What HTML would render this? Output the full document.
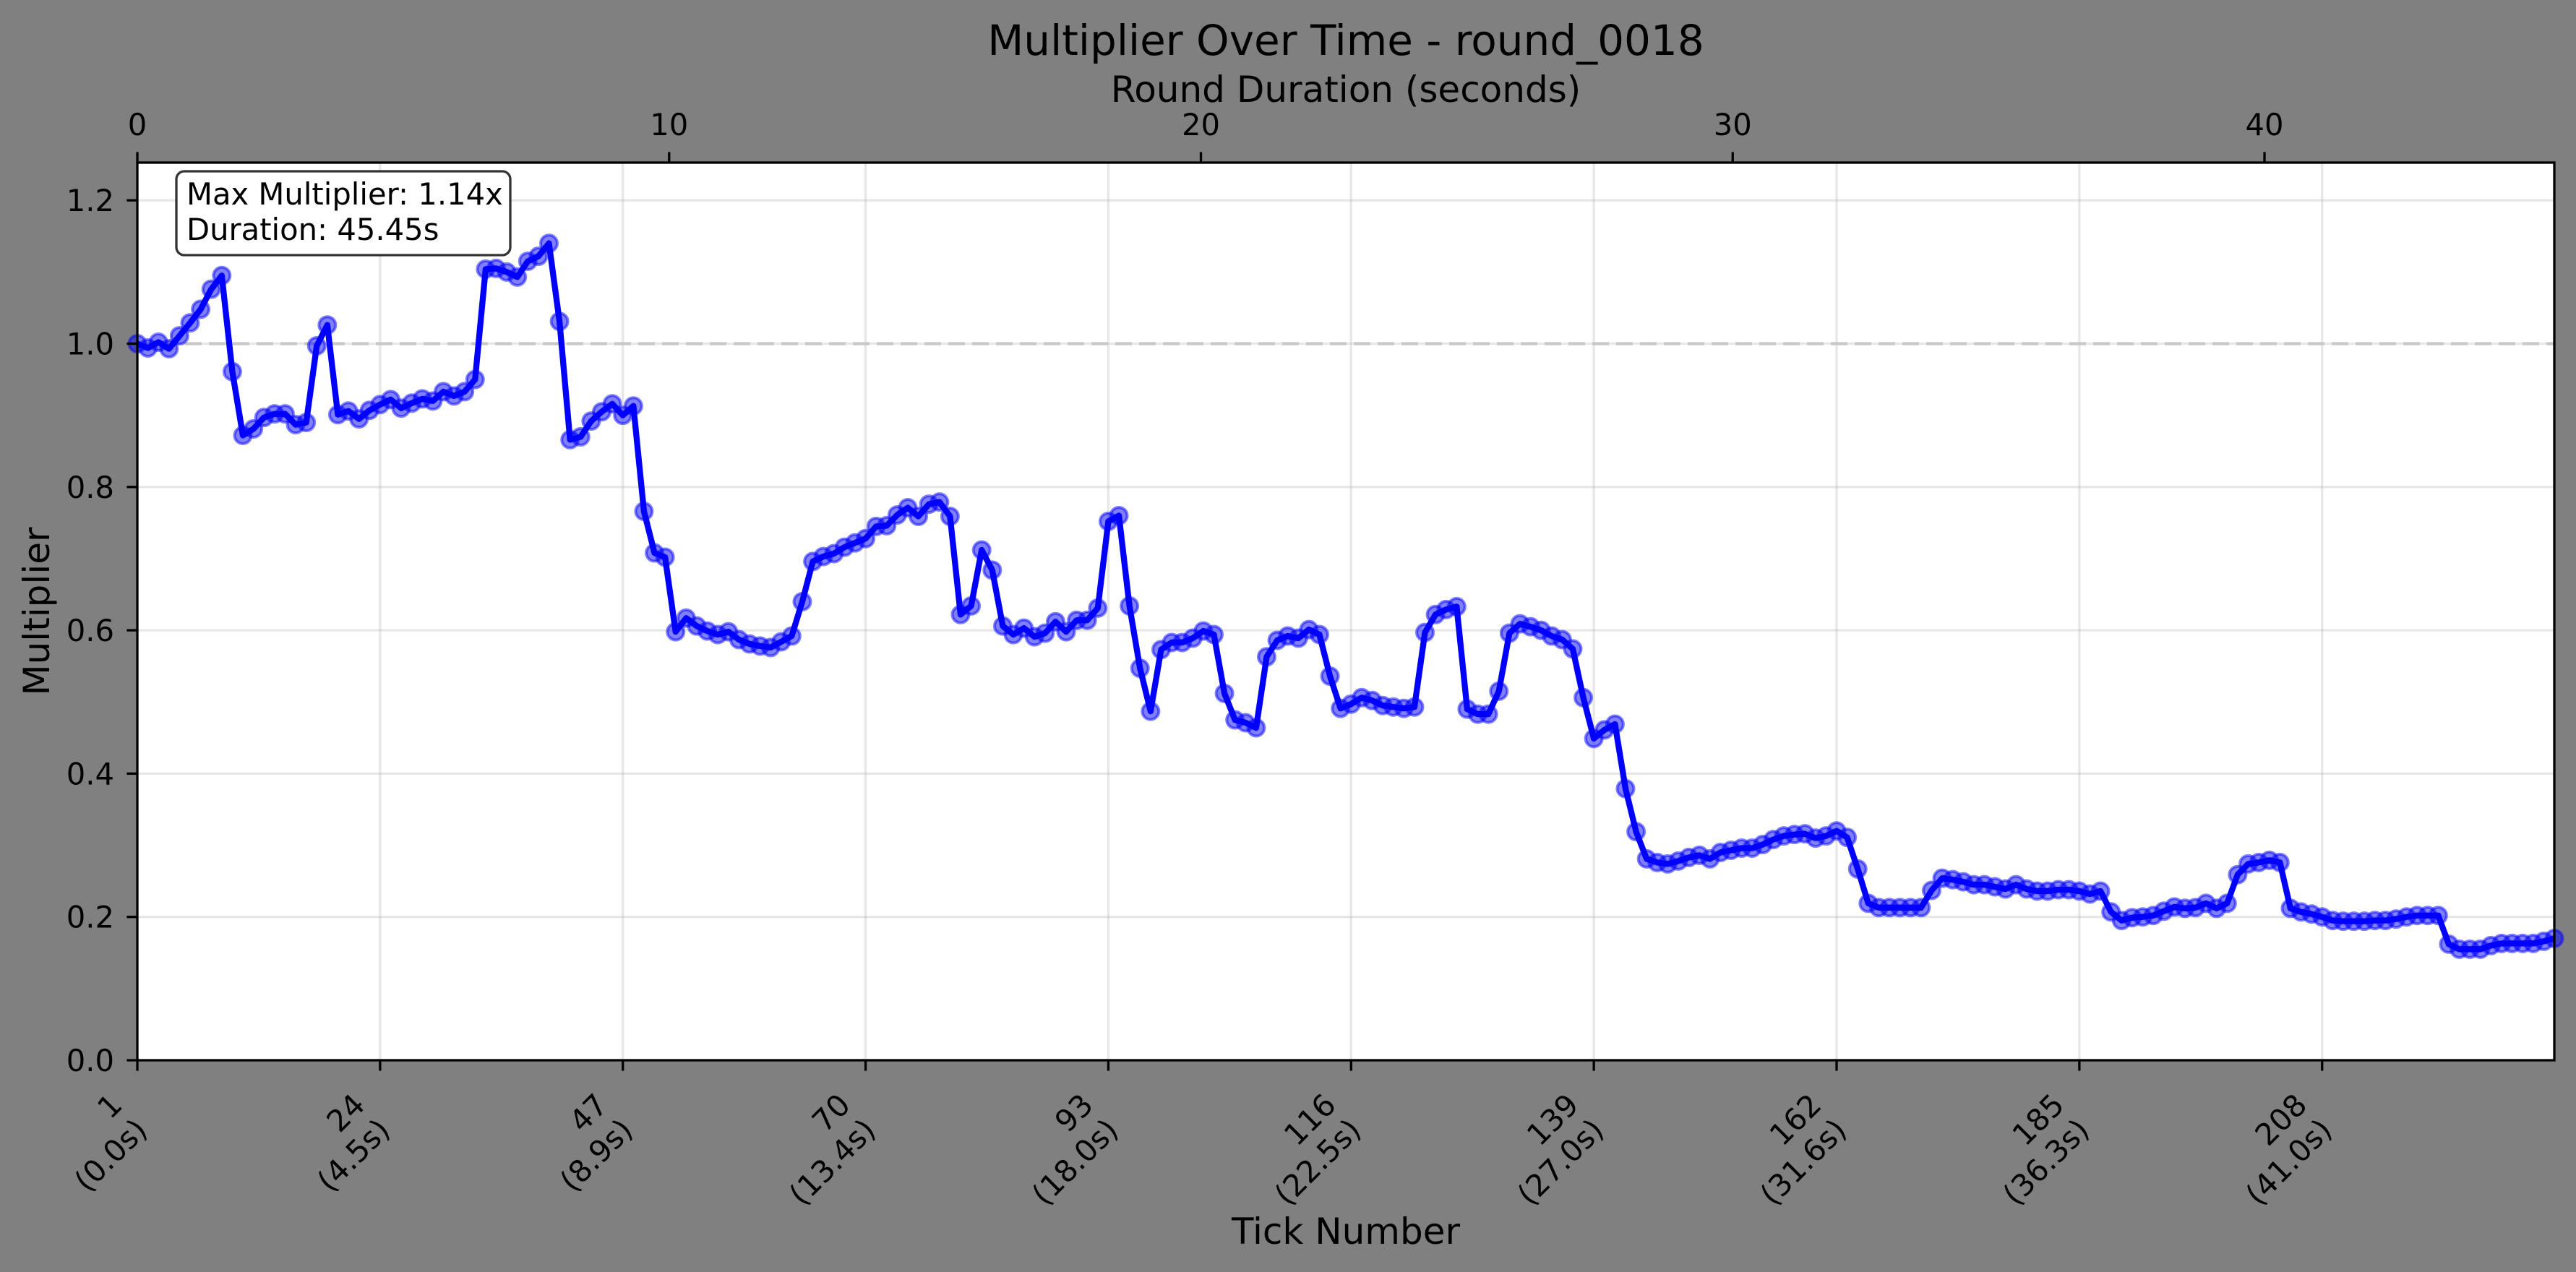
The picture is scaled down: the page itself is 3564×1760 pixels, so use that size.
<!DOCTYPE html>
<html><head><meta charset="utf-8"><style>
html,body{margin:0;padding:0;background:#808080;}
svg{display:block;font-family:"DejaVu Sans","Liberation Sans",sans-serif;}
</style></head><body>
<svg id="chart" width="3564" height="1760" viewBox="0 0 3564 1760" xmlns="http://www.w3.org/2000/svg">
<rect x="0" y="0" width="3564" height="1760" fill="#808080"/>
<rect x="190" y="225" width="3344" height="1242" fill="#ffffff"/>
<g id="grid"></g>
<line x1="190" x2="3534" y1="475.5" y2="475.5" stroke="#c8c8c8" stroke-width="4.2" stroke-dasharray="23 10"/>
<g id="series"></g>
<rect x="190" y="225" width="3344" height="1242" fill="none" stroke="#000" stroke-width="3.3"/>
<g id="axes"></g>
<g>
<rect x="244" y="237" width="462" height="116" rx="11" fill="#fff" stroke="#333" stroke-width="3.3"/>
<text x="258" y="283" font-size="41.7" fill="#000">Max Multiplier: 1.14x</text>
<text x="258" y="332" font-size="41.7" fill="#000">Duration: 45.45s</text>
</g>
<text x="1862" y="76" font-size="58" text-anchor="middle" fill="#000">Multiplier Over Time - round_0018</text>
<text x="1862" y="141" font-size="50" text-anchor="middle" fill="#000">Round Duration (seconds)</text>
<text x="1862" y="1721" font-size="50" text-anchor="middle" fill="#000">Tick Number</text>
<text x="0" y="0" font-size="50" text-anchor="middle" fill="#000" transform="translate(68,846) rotate(-90)">Multiplier</text>
</svg>
<script>
const multipliers = [
1.0,0.994,1.002,0.993,1.011,1.029,1.048,1.076,1.095,0.961,
0.872,0.881,0.897,0.902,0.902,0.887,0.890,0.997,1.026,0.901,
0.906,0.895,0.907,0.915,0.922,0.910,0.917,0.923,0.920,0.933,
0.927,0.933,0.950,1.104,1.105,1.100,1.093,1.115,1.122,1.140,
1.031,0.866,0.870,0.892,0.905,0.916,0.900,0.913,0.766,0.708,
0.702,0.598,0.617,0.606,0.599,0.594,0.598,0.587,0.581,0.578,
0.576,0.584,0.592,0.640,0.696,0.703,0.707,0.716,0.722,0.728,
0.745,0.746,0.761,0.771,0.759,0.776,0.779,0.759,0.622,0.634,
0.712,0.684,0.606,0.594,0.603,0.591,0.596,0.612,0.598,0.614,
0.614,0.631,0.752,0.760,0.634,0.547,0.487,0.573,0.583,0.583,
0.589,0.599,0.594,0.512,0.475,0.471,0.464,0.563,0.586,0.592,
0.589,0.601,0.594,0.536,0.491,0.497,0.506,0.502,0.495,0.493,
0.491,0.493,0.597,0.622,0.629,0.633,0.490,0.483,0.483,0.515,
0.596,0.609,0.605,0.600,0.592,0.587,0.574,0.506,0.449,0.461,
0.469,0.379,0.319,0.281,0.276,0.274,0.278,0.283,0.286,0.281,
0.290,0.293,0.296,0.296,0.301,0.308,0.313,0.315,0.316,0.310,
0.313,0.320,0.311,0.267,0.219,0.213,0.213,0.213,0.213,0.213,
0.237,0.254,0.252,0.249,0.245,0.245,0.242,0.239,0.245,0.239,
0.236,0.236,0.238,0.238,0.236,0.232,0.236,0.207,0.195,0.199,
0.200,0.202,0.208,0.214,0.212,0.213,0.219,0.212,0.219,0.259,
0.274,0.276,0.279,0.276,0.212,0.207,0.204,0.200,0.195,0.194,
0.194,0.194,0.195,0.195,0.197,0.200,0.202,0.202,0.202,0.162,
0.155,0.155,0.155,0.160,0.163,0.163,0.163,0.163,0.166,0.170
];
const bottomTicks = [1,24,47,70,93,116,139,162,185,208];
const bottomTimeLabels = ["0.0s","4.5s","8.9s","13.4s","18.0s","22.5s","27.0s","31.6s","36.3s","41.0s"];
const yTicks = [0.0,0.2,0.4,0.6,0.8,1.0,1.2];
const yTickLabels = ["0.0","0.2","0.4","0.6","0.8","1.0","1.2"];
const topTicks = [0,10,20,30,40];
const topTickLabels = ["0","10","20","30","40"];
const durationSeconds = 45.45;

const NS = "http://www.w3.org/2000/svg";
const L = 190, R = 3534, T = 225, B = 1467;
const tickMin = 1, tickMax = multipliers.length;
const yMax = (B - T) / 991.5;
function xScale(t){ return L + (t - tickMin) / (tickMax - tickMin) * (R - L); }
function yScale(v){ return B - v / yMax * (B - T); }
function sScale(s){ return L + s / durationSeconds * (R - L); }
function mk(tag, attrs, parent){
  const el = document.createElementNS(NS, tag);
  for (const k in attrs) el.setAttribute(k, attrs[k]);
  parent.appendChild(el);
  return el;
}
const grid = document.getElementById('grid');
const axes = document.getElementById('axes');
const series = document.getElementById('series');

yTicks.forEach((v, i) => {
  const y = yScale(v);
  const g = mk('line', {x1:L, x2:R, y1:y, y2:y, stroke:'#b0b0b0', 'stroke-opacity':0.3, 'stroke-width':3.3}, grid);
  
  
  const tk = mk('line', {x1:L-14.6, x2:L, y1:y, y2:y, stroke:'#000', 'stroke-width':3.3}, axes);
  
  
  const tx = mk('text', {x:158, y:y+15, 'font-size':41.7, 'text-anchor':'end', fill:'#000'}, axes);
  tx.textContent = yTickLabels[i];
  
  
});

bottomTicks.forEach((t, i) => {
  const x = xScale(t);
  const g = mk('line', {x1:x, x2:x, y1:T, y2:B, stroke:'#b0b0b0', 'stroke-opacity':0.3, 'stroke-width':3.3}, grid);
  
  
  const tk = mk('line', {x1:x, x2:x, y1:B, y2:B+14.6, stroke:'#000', 'stroke-width':3.3}, axes);
  
  
  const grp = mk('g', {transform:'translate(' + (x+16) + ',1566) rotate(-45)'}, axes);
  
  
  const t1 = mk('text', {x:0, y:-49, 'font-size':41.7, 'text-anchor':'end', fill:'#000'}, grp);
  t1.textContent = String(t);
  
  
  const t2 = mk('text', {x:0, y:0, 'font-size':41.7, 'text-anchor':'end', fill:'#000'}, grp);
  t2.textContent = '(' + bottomTimeLabels[i] + ')';
  
  
});

topTicks.forEach((s, i) => {
  const x = sScale(s);
  const tk = mk('line', {x1:x, x2:x, y1:T-14.6, y2:T, stroke:'#000', 'stroke-width':3.3}, axes);
  
  
  const tx = mk('text', {x:x, y:187, 'font-size':41.7, 'text-anchor':'middle', fill:'#000'}, axes);
  tx.textContent = topTickLabels[i];
  
  
});

const pts = multipliers.map((v, i) => xScale(i + 1).toFixed(2) + ',' + yScale(v).toFixed(2)).join(' ');
const line = mk('polyline', {points:pts, fill:'none', stroke:'#0000ff', 'stroke-width':8.3, 'stroke-linejoin':'round'}, series);


multipliers.forEach((v, i) => {
  const c = mk('circle', {cx:xScale(i + 1), cy:yScale(v), r:11.5, fill:'#0000ff', 'fill-opacity':0.5, stroke:'#0000ff', 'stroke-opacity':0.5, 'stroke-width':4}, series);
  
  
});
</script>
</body></html>
